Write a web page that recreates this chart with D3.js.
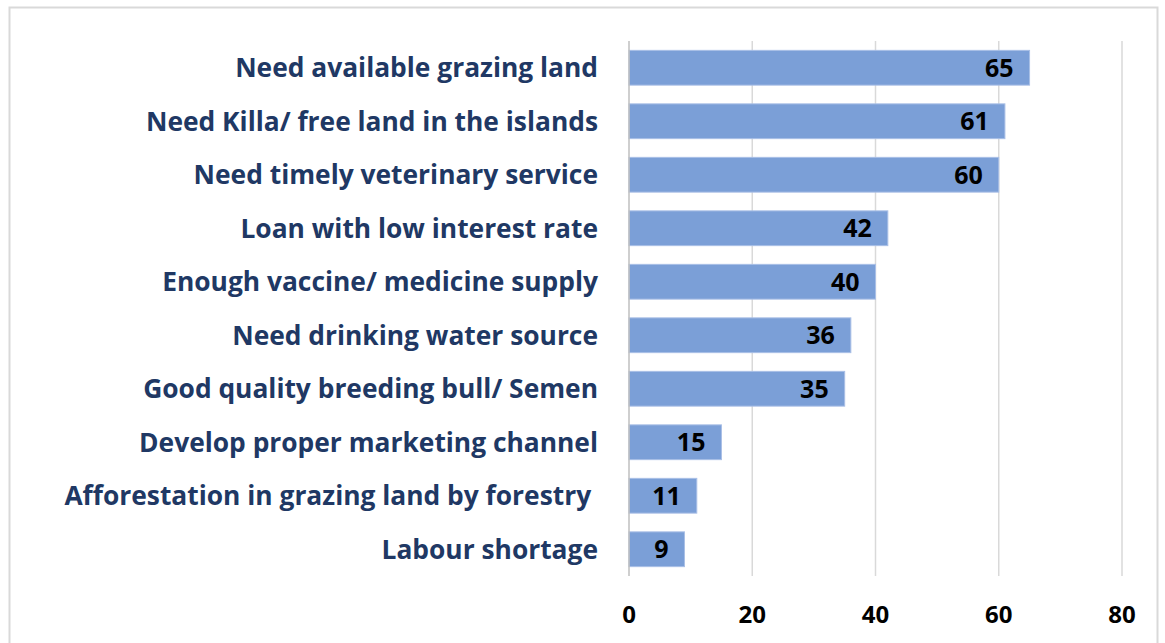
<!DOCTYPE html>
<html><head><meta charset="utf-8">
<script src="https://cdn.jsdelivr.net/npm/d3@7"></script>
<style>body{margin:0;background:#fff}svg{display:block}</style>
</head><body>
<script>
const categories = ["Need available grazing land","Need Killa/ free land in the islands","Need timely veterinary service","Loan with low interest rate","Enough vaccine/ medicine supply","Need drinking water source","Good quality breeding bull/ Semen","Develop proper marketing channel","Afforestation in grazing land by forestry ","Labour shortage"];
const values = [65,61,60,42,40,36,35,15,11,9];
const tickValues = [0,20,40,60,80];

const W=1165,H=643;
const svg=d3.select("body").append("svg").attr("width",W).attr("height",H);
svg.append("rect").attr("x",9.5).attr("y",7.5).attr("width",1148).attr("height",640).attr("fill","#fff").attr("stroke","#d9d9d9").attr("stroke-width",2);

const x=d3.scaleLinear().domain([0,80]).range([629,1122]);
const y=d3.scaleBand().domain(categories).range([41,576]).paddingInner(0.35).paddingOuter(0.175);

svg.append("g").selectAll("line").data(tickValues.slice(1)).join("line")
 .attr("x1",d=>x(d)).attr("x2",d=>x(d)).attr("y1",41).attr("y2",576)
 .attr("stroke","#d9d9d9").attr("stroke-width",1.5);

svg.append("g").selectAll("rect").data(values).join("rect")
 .attr("x",x(0)).attr("y",(d,i)=>y(categories[i])).attr("width",d=>x(d)-x(0)).attr("height",y.bandwidth())
 .attr("fill","#7b9fd7").attr("stroke","#a9bfe6").attr("stroke-width",1);

svg.append("line").attr("x1",x(0)).attr("x2",x(0)).attr("y1",41).attr("y2",576).attr("stroke","#bfbfbf").attr("stroke-width",1.5);

const font="'Open Sans', sans-serif";
const labels=svg.append("g").selectAll("text").data(categories).join("text")
 .attr("x",598).attr("y",d=>y(d)+y.bandwidth()/2).attr("dy","0.36em")
 .attr("text-anchor","end").attr("font-family",font).attr("font-weight",700).attr("font-size",24)
 .attr("fill","#203864").attr("xml:space","preserve").style("white-space","pre").text(d=>d);
// fit font size so the first label spans the reference width (~363px)
const w0=labels.node().getComputedTextLength();
const fs=24*363/w0;
labels.attr("font-size",fs);

svg.append("g").selectAll("text").data(values).join("text")
 .attr("x",d=>x(d)-16).attr("y",(d,i)=>y(categories[i])+y.bandwidth()/2).attr("dy","0.36em")
 .attr("text-anchor","end").attr("font-family",font).attr("font-weight",700).attr("font-size",25)
 .attr("fill","#000").text(d=>d);

svg.append("g").selectAll("text").data(tickValues).join("text")
 .attr("x",d=>x(d)).attr("y",614).attr("dy","0.36em").attr("text-anchor","middle")
 .attr("font-family",font).attr("font-weight",700).attr("font-size",24).attr("fill","#000").text(d=>d);
</script>
</body></html>
